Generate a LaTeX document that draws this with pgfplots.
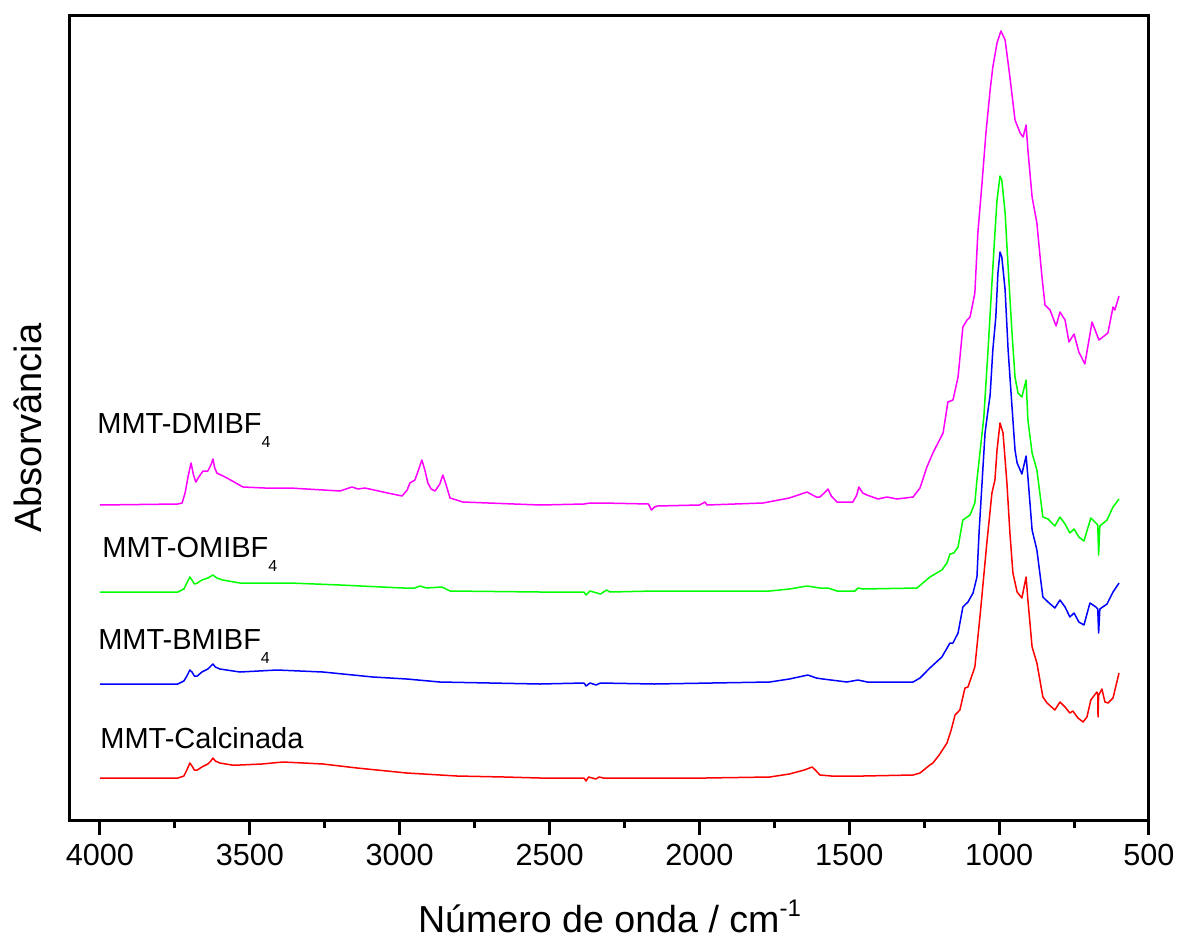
\documentclass[border=0pt]{standalone}
\usepackage{pgfplots}
\pgfplotsset{compat=1.18}
\usepackage{fontspec}
\setmainfont{Liberation Sans}
\definecolor{cred}{RGB}{255,0,0}
\definecolor{cblue}{RGB}{0,0,255}
\definecolor{cgreen}{RGB}{0,255,0}
\definecolor{cmag}{RGB}{255,0,255}
\newcommand{\lbfont}{\fontsize{14.5}{17}\selectfont}
\newcommand{\sub}[1]{\raisebox{-7pt}{\fontsize{8}{9}\selectfont #1}}

\begin{document}
\begin{tikzpicture}
\useasboundingbox (-35pt,-59.5pt) rectangle (553.5pt,410pt);
\begin{axis}[
  at={(0,0)}, anchor=south west,
  scale only axis, width=539.5pt, height=402pt,
  x dir=reverse, xmin=500, xmax=4100, ymin=0, ymax=804,
  xtick={500,1000,...,4000}, minor x tick num=1,
  ytick=\empty, xtick pos=bottom, tick align=outside,
  major tick length=7.5pt, minor tick length=4pt,
  tick style={line width=1.5pt, black},
  axis line style={line width=1.5pt},
  /pgf/number format/assume math mode=true,
  /pgf/number format/1000 sep={},
  xticklabel={\fontsize{15.3}{18}\selectfont\pgfmathprintnumber[assume math mode=true,1000 sep={}]{\tick}},
  xticklabel style={yshift=-1pt},
  xlabel={N\'umero de onda / cm\raisebox{8pt}{\fontsize{12}{12}\selectfont -1}},
  ylabel={Absorvância},
  xlabel style={font=\fontsize{18.8}{22}\selectfont, at={(axis description cs:0.5,-0.14)}, anchor=base},
  ylabel style={font=\fontsize{19}{22}\selectfont, at={(axis description cs:-0.026,0.4876)}, anchor=base, rotate=0},
  every axis plot/.append style={line width=0.75pt, line join=round},
  clip=false,
]
\addplot[cred] table {
4000 42
3800 42
3740 42
3720 44
3710 50
3700 57
3693 54
3685 50
3675 50
3660 53
3640 56
3630 59
3623 62
3615 59
3600 57
3560 55
3533 55
3460 56
3389 58
3320 57
3256 56
3142 52
2976 47
2809 44
2650 43
2532 42
2385 42
2378 39
2370 43
2345 41
2335 43
2320 42
2150 42
1980 42
1765 43
1700 46
1650 50
1624 53
1610 49
1598 45
1560 44
1454 44
1287 45
1264 47
1231 55
1221 57
1200 65
1174 77
1160 90
1147 105
1131 110
1114 132
1104 133
1081 153
1064 203
1041 277
1024 327
1014 340
1007 370
997 397
987 387
974 337
964 287
954 247
940 228
924 222
910 243
904 220
890 173
874 157
854 123
840 117
814 110
797 118
780 113
764 107
754 109
737 102
720 98
707 103
694 120
674 128
671 126
670 103
668 125
664 127
657 131
647 118
637 117
620 122
600 147
};
\addplot[cblue] table {
4000 136
3800 136
3740 136
3720 139
3710 144
3700 150
3693 148
3685 144
3675 144
3660 148
3640 151
3630 154
3623 156
3615 153
3600 151
3533 148
3409 150
3256 148
3089 143
2976 141
2866 138
2532 136
2385 137
2378 134
2365 137
2345 135
2330 137
2150 136
1765 138
1700 141
1638 145
1610 142
1588 141
1508 138
1471 140
1440 138
1287 138
1264 142
1231 152
1191 163
1164 177
1154 177
1137 187
1121 213
1104 218
1087 227
1074 243
1067 287
1057 337
1047 387
1037 410
1030 425
1021 470
1011 503
1004 547
997 568
991 563
980 530
970 470
957 413
947 370
940 357
924 346
910 364
904 343
890 290
874 270
854 223
837 218
814 212
797 220
780 213
764 203
750 207
734 198
717 195
697 217
677 213
671 211
668 187
664 211
640 216
620 228
600 237
};
\addplot[cgreen] table {
4000 228
3740 228
3720 231
3710 237
3700 243
3693 240
3685 236
3675 237
3660 240
3640 242
3623 245
3610 242
3590 240
3533 237
3366 237
3199 235
2989 232
2950 232
2932 234
2910 232
2859 233
2832 229
2532 228
2385 228
2378 225
2365 229
2330 226
2310 230
2298 228
2150 229
1765 229
1700 231
1641 234
1598 232
1571 232
1541 229
1481 229
1471 232
1454 231
1274 232
1231 243
1191 250
1174 257
1164 266
1151 267
1137 273
1121 300
1097 305
1081 317
1074 340
1051 403
1037 470
1024 537
1014 587
1007 620
997 644
991 640
980 607
970 553
957 487
947 443
937 427
924 423
910 440
904 400
890 367
874 350
854 303
837 301
814 294
797 303
780 296
764 287
750 291
734 283
717 279
694 302
677 297
671 295
668 265
664 294
640 300
620 313
600 321
};
\addplot[cmag] table {
4000 315
3740 316
3726 317
3716 327
3705 345
3696 357
3688 345
3680 338
3668 344
3656 349
3640 349
3630 355
3623 361
3617 352
3610 347
3576 342
3523 333
3450 332
3366 332
3199 329
3159 333
3139 331
3116 332
3040 327
2992 324
2975 330
2966 337
2949 340
2935 352
2926 360
2916 350
2906 337
2895 331
2882 329
2866 336
2856 345
2845 335
2832 322
2789 318
2532 315
2385 316
2365 317
2322 317
2170 316
2160 310
2150 313
2140 314
2000 315
1981 318
1975 315
1788 317
1700 322
1641 328
1610 323
1598 323
1580 328
1571 331
1560 324
1541 318
1488 318
1475 325
1468 333
1455 327
1441 325
1404 321
1374 323
1341 321
1287 323
1264 332
1241 353
1221 367
1187 387
1171 418
1154 420
1137 443
1121 493
1107 500
1097 503
1081 527
1071 587
1057 637
1044 687
1030 730
1021 753
1007 777
994 789
980 780
964 743
947 700
930 687
920 683
910 695
904 670
890 623
874 597
857 543
847 515
830 510
810 494
797 508
780 500
767 478
750 486
734 468
714 456
690 498
667 480
637 487
620 513
614 510
600 524
};
\node[anchor=base west, font=\lbfont, inner sep=0pt] at (axis cs:4010,387) {MMT-DMIBF\sub{4}};
\node[anchor=base west, font=\lbfont, inner sep=0pt] at (axis cs:3993,263) {MMT-OMIBF\sub{4}};
\node[anchor=base west, font=\lbfont, inner sep=0pt] at (axis cs:4007,171) {MMT-BMIBF\sub{4}};
\node[anchor=base west, font=\lbfont, inner sep=0pt] at (axis cs:4000,72) {MMT-Calcinada};
\end{axis}
\end{tikzpicture}
\end{document}
